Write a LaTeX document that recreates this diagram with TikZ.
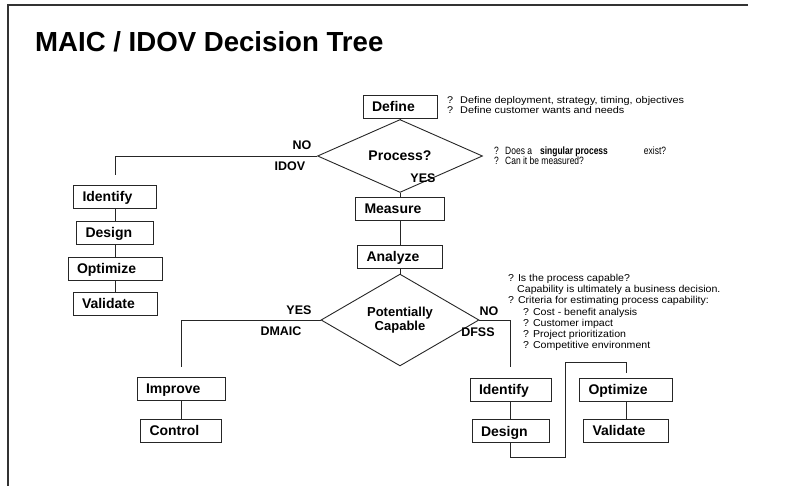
\documentclass[tikz,border=0pt]{standalone}
\usepackage{fontspec}
\setmainfont{Liberation Sans}
\newfontfamily\notesans{Liberation Sans}[FakeStretch=1.12]
\newfontfamily\widenotesans{Liberation Sans}[FakeStretch=1.06]
\newfontfamily\narrownotesans{Liberation Sans}[FakeStretch=0.8]
\usetikzlibrary{shapes.geometric}

% type sizes
\newcommand\boxfont{\fontsize{14}{16}\selectfont\bfseries}
\newcommand\tagfont{\fontsize{12.5}{14}\selectfont\bfseries}
\newcommand\headfont{\fontsize{27.6}{32}\selectfont\bfseries}
\newcommand\notefontA{\notesans\fontsize{9.7}{11}\selectfont}
\newcommand\notefontB{\narrownotesans\fontsize{10.6}{12}\selectfont}
\newcommand\notefontC{\widenotesans\fontsize{10}{12}\selectfont}
% left-aligned label of fixed width inside a step box
\newcommand\steplabel[2]{\makebox[#1][l]{#2}}

\begin{document}
\begin{tikzpicture}[x=1pt,y=-1pt,
  stepbox/.style={draw=black!85, line width=0.9pt, font=\boxfont,
    inner xsep=9pt, inner ysep=0pt, minimum height=23pt,
    text height=10pt, text depth=0pt},
  decision/.style={diamond, draw=black!85, line width=0.9pt, font=\boxfont,
    inner sep=0pt, align=center},
  link/.style={draw=black!85, line width=0.9pt},
  frameline/.style={draw=black!80, line width=1.1pt},
  tag/.style={font=\tagfont, inner sep=0pt, text height=9pt, text depth=0pt},
  note/.style={anchor=west, inner sep=0pt, text height=7.5pt, text depth=0pt}]

\useasboundingbox (0,0) rectangle (785,486);

% page frame (top and left edges)
\coordinate (frameTR) at (748,5);
\coordinate (frameTL) at (8,5);
\coordinate (frameBL) at (8,486);
\draw[frameline] (frameTR) -- (frameTL) -- (frameBL);

% heading
\node[anchor=base west, inner sep=0pt, font=\headfont] (title) at (35,52)
  {MAIC / IDOV Decision Tree};

% main column
\node[stepbox] (define) at (400,107) {\steplabel{56pt}{Define}};
\node[decision, minimum width=165pt, minimum height=32pt] (process) at (400,156) {Process?};
\node[stepbox] (measure) at (400,208.5) {\steplabel{71pt}{Measure}};
\node[stepbox] (analyze) at (400,257) {\steplabel{67pt}{Analyze}};
\node[decision, minimum width=158pt, minimum height=56pt,
  font=\fontsize{13}{14}\selectfont\bfseries] (capable) at (400,320) {Potentially\\Capable};

% IDOV column
\node[stepbox] (idovI) at (115,196.5) {\steplabel{65pt}{Identify}};
\node[stepbox] (idovD) at (115,232.5) {\steplabel{59pt}{Design}};
\node[stepbox] (idovO) at (115,268.5) {\steplabel{76pt}{Optimize}};
\node[stepbox] (idovV) at (115,303.5) {\steplabel{66pt}{Validate}};

% DMAIC column
\node[stepbox] (improve) at (181,388.5) {\steplabel{70pt}{Improve}};
\node[stepbox] (control) at (181,430.5) {\steplabel{63pt}{Control}};

% DFSS columns
\node[stepbox] (dfssI) at (510.5,390) {\steplabel{63pt}{Identify}};
\node[stepbox] (dfssD) at (510.5,431) {\steplabel{59pt}{Design}};
\node[stepbox] (dfssO) at (626,390) {\steplabel{75pt}{Optimize}};
\node[stepbox] (dfssV) at (626,430.5) {\steplabel{67pt}{Validate}};

% free ends of the branch lines
\coordinate (idovEnd) at (115,175);
\coordinate (dmaicEnd) at (181,367);
\coordinate (dfssEnd) at (510.5,367);
\coordinate (loopLow) at (565,457);
\coordinate (loopHigh) at (565,362);
\coordinate (optEnd) at (626,373);

% connectors
\draw[link] (define) -- (process);
\draw[link] (process) -- (measure);
\draw[link] (measure) -- (analyze);
\draw[link] (analyze) -- (capable);
\draw[link] (process.west) -| (idovEnd);
\draw[link] (idovI) -- (idovD);
\draw[link] (idovD) -- (idovO);
\draw[link] (idovO) -- (idovV);
\draw[link] (capable.west) -| (dmaicEnd);
\draw[link] (improve) -- (control);
\draw[link] (capable.east) -| (dfssEnd);
\draw[link] (dfssI) -- (dfssD);
\draw[link] (dfssD.south) |- (loopLow) -- (loopHigh) -| (optEnd);
\draw[link] (dfssO) -- (dfssV);

% branch labels
\node[tag] (noA) at (302,145) {NO};
\node[tag] (idovTag) at (290,166) {IDOV};
\node[tag] (yesA) at (423,178) {YES};
\node[tag] (yesB) at (299,310) {YES};
\node[tag] (dmaicTag) at (281,331) {DMAIC};
\node[tag] (noB) at (489,311) {NO};
\node[tag] (dfssTag) at (478,332) {DFSS};

% notes beside the steps
\node[note, font=\notefontA] (defNote1) at (447,100)
  {\makebox[13pt][l]{?}Define deployment, strategy, timing, objectives};
\node[note, font=\notefontA] (defNote2) at (447,110)
  {\makebox[13pt][l]{?}Define customer wants and needs};

\node[note, font=\notefontB] (procNote1) at (494,151)
  {\makebox[11pt][l]{?}Does a\hspace{8pt}\textbf{singular process}\hspace{36pt}exist?};
\node[note, font=\notefontB] (procNote2) at (494,161)
  {\makebox[11pt][l]{?}Can it be measured?};

\node[note, font=\notefontC] (capNote1) at (508,278) {? Is the process capable?};
\node[note, font=\notefontC] (capNote2) at (517,289) {Capability is ultimately a business decision.};
\node[note, font=\notefontC] (capNote3) at (508,300) {? Criteria for estimating process capability:};
\node[note, font=\notefontC] (capNote4) at (523,312) {? Cost - benefit analysis};
\node[note, font=\notefontC] (capNote5) at (523,323) {? Customer impact};
\node[note, font=\notefontC] (capNote6) at (523,334) {? Project prioritization};
\node[note, font=\notefontC] (capNote7) at (523,345) {? Competitive environment};

\end{tikzpicture}
\end{document}
